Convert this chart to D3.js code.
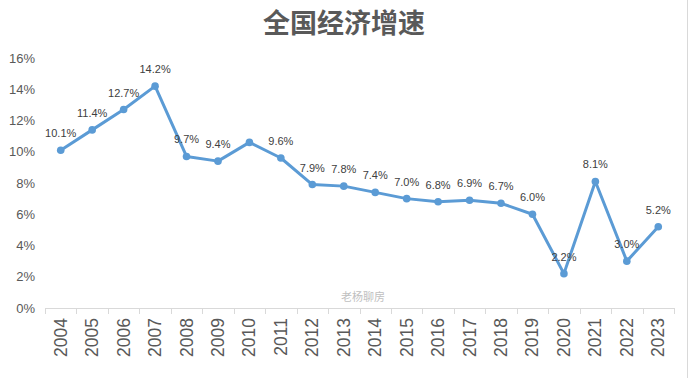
<!DOCTYPE html>
<html>
<head>
<meta charset="utf-8">
<script src="https://cdn.jsdelivr.net/npm/d3@7"></script>
<style>
  body { margin: 0; background: #fff; }
  svg { display: block; font-family: "Noto Sans CJK SC", "Liberation Sans", sans-serif; }
</style>
</head>
<body>
<svg id="chart" width="689" height="378"></svg>
<script>
// years on the x axis
const years = ['2004','2005','2006','2007','2008','2009','2010','2011','2012','2013',
  '2014','2015','2016','2017','2018','2019','2020','2021','2022','2023']
// growth rate in percent
const growth = [10.1, 11.4, 12.7, 14.2, 9.7, 9.4, 10.6, 9.6, 7.9, 7.8,
  7.4, 7.0, 6.8, 6.9, 6.7, 6.0, 2.2, 8.1, 3.0, 5.2]
// which points show a data label (2010 has none in the source)
const showLabel = [1,1,1,1,1,1,0,1,1,1,1,1,1,1,1,1,1,1,1,1]
// y tick values
const yTicks = [0, 2, 4, 6, 8, 10, 12, 14, 16]

const title = '全国经济增速'
const watermark = '老杨聊房'

function makeChart() {
  const svg = d3.select('#chart')
  const margin = {top: 58, left: 45, right: 15, bottom: 70}
  const width = 689, height = 378

  const x = d3.scaleBand().domain(years).range([margin.left, width - margin.right])
  const y = d3.scaleLinear().domain([0, 16]).range([height - margin.bottom, margin.top])

  // title
  svg.append('text')
    .attr('x', 344).attr('y', 33)
    .attr('text-anchor', 'middle')
    .attr('font-size', 27).attr('font-weight', 'bold')
    .attr('fill', '#595959')
    .text(title)

  // right border line
  svg.append('line')
    .attr('x1', 687.5).attr('x2', 687.5).attr('y1', 0).attr('y2', height)
    .attr('stroke', '#d9d9d9')

  // y axis labels
  const axisY = d3.axisLeft(y).tickValues(yTicks).tickSize(0).tickPadding(10)
    .tickFormat(d => d + '%')
  const gy = svg.append('g').attr('transform', `translate(${margin.left},0)`).call(axisY)
  gy.select('.domain').remove()
  gy.selectAll('text').attr('font-size', 13).attr('fill', '#595959')
    .attr('font-family', 'Liberation Sans, sans-serif')

  // x axis with boundary ticks
  const base = y(0)
  svg.append('line')
    .attr('x1', margin.left).attr('x2', width - margin.right)
    .attr('y1', base + 0.5).attr('y2', base + 0.5)
    .attr('stroke', '#d9d9d9')
  const bounds = years.map(d => x(d)).concat([x(years[years.length - 1]) + x.bandwidth()])
  svg.selectAll('.bt').data(bounds).enter().append('line')
    .attr('x1', d => Math.round(d) + 0.5).attr('x2', d => Math.round(d) + 0.5)
    .attr('y1', base).attr('y2', base + 6)
    .attr('stroke', '#d9d9d9')
  svg.selectAll('.yl').data(years).enter().append('text')
    .attr('transform', d => `translate(${x(d) + x.bandwidth() / 2 + 6},${base + 10}) rotate(-90)`)
    .attr('text-anchor', 'end')
    .attr('font-size', 17.5)
    .attr('font-family', 'Liberation Sans, sans-serif')
    .attr('fill', '#595959')
    .text(d => d)

  // watermark
  svg.append('text')
    .attr('x', 341).attr('y', 301)
    .attr('font-size', 11).attr('fill', '#bfbfbf')
    .text(watermark)

  // line
  const pts = growth.map((v, i) => ({year: years[i], value: v, label: showLabel[i]}))
  const cx = d => x(d.year) + x.bandwidth() / 2
  const line = d3.line().x(cx).y(d => y(d.value))
  svg.append('path').datum(pts)
    .attr('d', line)
    .attr('fill', 'none')
    .attr('stroke', '#5b9bd5')
    .attr('stroke-width', 3)
    .attr('stroke-linejoin', 'round')

  svg.selectAll('.pt').data(pts).enter().append('circle')
    .attr('cx', cx).attr('cy', d => y(d.value)).attr('r', 3.8)
    .attr('fill', '#5b9bd5')

  // data labels
  svg.selectAll('.lbl').data(pts.filter(d => d.label)).enter()
    .append('text')
    .attr('x', cx).attr('y', d => y(d.value) - 13)
    .attr('text-anchor', 'middle')
    .attr('font-size', 11)
    .attr('font-family', 'Liberation Sans, sans-serif')
    .attr('fill', '#404040')
    .text(d => d.value.toFixed(1) + '%')
}

window.onload = makeChart
</script>
</body>
</html>
